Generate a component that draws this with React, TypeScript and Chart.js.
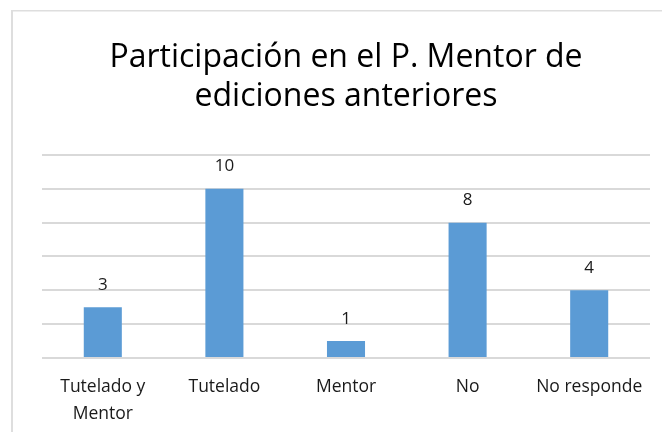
import React, { useEffect, useRef } from "react";
import { Chart, registerables } from "chart.js";

Chart.register(...registerables);

const titleLines = ["Participación en el P. Mentor de", "ediciones anteriores"];
const categories: (string | string[])[] = [["Tutelado y", "Mentor"], "Tutelado", "Mentor", "No", "No responde"];
const values = [3, 10, 1, 8, 4];
const yMin = 0;
const yMax = 12;
const yStep = 2;

const FONT = "'Open Sans', 'Noto Sans', sans-serif";

const framePlugin = {
  id: "frame",
  beforeDraw(chart: any) {
    const { ctx, width, height } = chart;
    ctx.save();
    ctx.fillStyle = "#ffffff";
    ctx.fillRect(0, 0, width, height);
    ctx.fillStyle = "#dedede";
    ctx.fillRect(11, 10, 2, height - 10);
    ctx.fillRect(11, 10, width - 11, 1.5);
    ctx.restore();
  },
};

const labelPlugin = {
  id: "valueLabels",
  afterDatasetsDraw(chart: any) {
    const { ctx } = chart;
    const meta = chart.getDatasetMeta(0);
    ctx.save();
    ctx.font = `17px ${FONT}`;
    ctx.fillStyle = "#1a1a1a";
    ctx.textAlign = "center";
    ctx.textBaseline = "alphabetic";
    meta.data.forEach((bar: any, i: number) => {
      ctx.fillText(String(values[i]), bar.x, bar.y - 17.5);
    });
    ctx.restore();
  },
};

export default function App() {
  const ref = useRef<HTMLCanvasElement | null>(null);
  useEffect(() => {
    if (!ref.current) return;
    const chart = new Chart(ref.current, {
      type: "bar",
      data: {
        labels: categories,
        datasets: [
          {
            data: values,
            backgroundColor: "#5B9BD5",
            borderWidth: 0,
            barPercentage: 0.313,
            categoryPercentage: 1,
          },
        ],
      },
      options: {
        animation: false,
        responsive: true,
        maintainAspectRatio: false,
        layout: { padding: { left: 42, right: 12, top: 0, bottom: 0 } },
        plugins: {
          legend: { display: false },
          tooltip: { enabled: false },
          title: {
            display: true,
            text: titleLines,
            color: "#000000",
            font: { family: FONT, size: 32, weight: "normal", lineHeight: 1.234 },
            padding: { top: 38, bottom: 38 },
          },
        },
        scales: {
          x: {
            grid: { display: false, drawTicks: false },
            border: { display: false },
            ticks: {
              color: "#1a1a1a",
              font: { family: FONT, size: 17.5, lineHeight: 1.52 },
              padding: 16,
              maxRotation: 0,
              autoSkip: false,
            },
            afterFit(scale: any) {
              scale.height = 74;
            },
          },
          y: {
            min: yMin,
            max: yMax,
            ticks: { display: false, stepSize: yStep },
            grid: { color: "#d9d9d9", lineWidth: 2, drawTicks: false },
            border: { display: false },
          },
        },
      },
      plugins: [framePlugin, labelPlugin],
    });
    return () => chart.destroy();
  }, []);
  return (
    <div style={{ position: "fixed", left: 0, top: 0, width: 662, height: 432, background: "#fff" }}>
      <canvas ref={ref} />
    </div>
  );
}
